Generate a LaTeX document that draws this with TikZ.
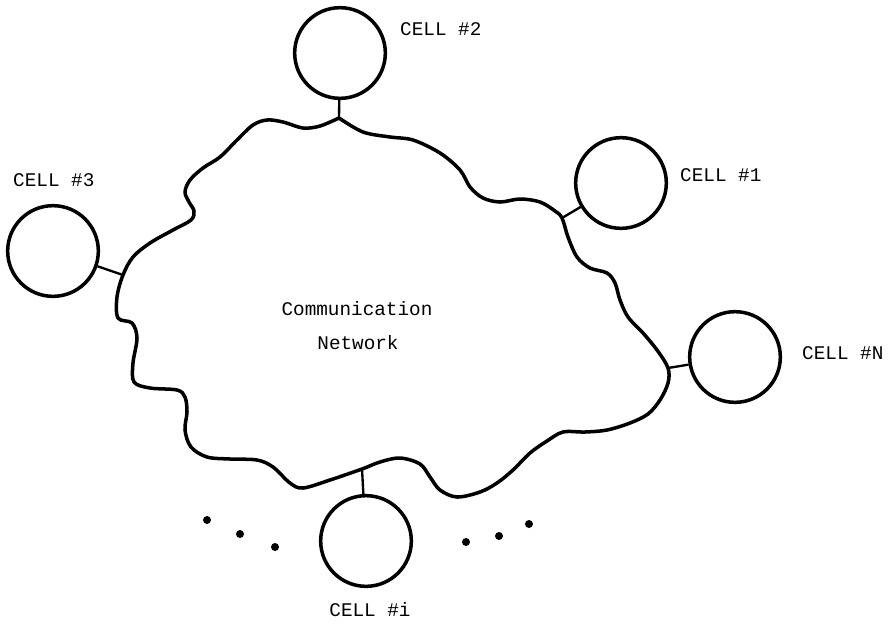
\documentclass[tikz,border=0pt]{standalone}
\usepackage{fontspec}
\setmonofont{Liberation Mono}
\tikzset{
  net/.style={
    line width=3pt,
    line cap=round,
    line join=round
  },
  cell/.style={circle, draw=black, line width=3pt, minimum size=2.72cm, inner sep=0pt},
  link/.style={line width=2pt},
  cell-label/.style={font=\ttfamily\fontsize{16.5}{20}\selectfont, inner sep=0pt, anchor=west},
  net-label/.style={font=\ttfamily\fontsize{16.5}{20}\selectfont, inner sep=0pt},
  dot-mark/.style={fill=black}
}

\begin{document}
\begin{tikzpicture}[x=0.03cm, y=-0.03cm]
  \useasboundingbox (0,0) rectangle (894,631);

  % Network outline (cusp where cell 2 joins)
  \draw[net] plot[smooth, tension=0.55] coordinates {
    (339,118) (363,132) (390,137) (413,140) (440,153) (460,170) (470,187)
    (483,198) (500,202) (520,199) (540,202) (555,211) (562,218) (568,237)
    (577,257) (590,268) (607,273) (615,283) (620,300) (628,317) (643,333)
    (657,350) (668,368) (668,383) (660,400) (648,414) (630,423) (607,430)
    (585,432) (563,432) (547,441) (530,453) (513,470) (497,483)
    (480,492) (457,497) (440,490) (430,477) (420,464) (400,458) (380,462)
    (362,469) (330,480) (303,488) (290,483) (273,467) (257,460) (230,459)
    (207,457) (191,447) (185,430) (187,412) (185,397) (177,390) (150,388)
    (134,382) (133,363) (137,338) (132,323) (118,318) (117,297) (123,275)
    (133,257) (150,243) (173,230) (191,220) (194,211) (189,202) (185,192)
    (190,180) (203,168) (220,157) (237,140) (253,125) (267,120) (283,122)
    (303,128) (320,126) (339,118)
  };

  % Junctions on the outline
  \coordinate (j2) at (339,118);
  \coordinate (j1) at (562,218);
  \coordinate (jN) at (668,368);
  \coordinate (ji) at (362,469);
  \coordinate (j3) at (123,275);

  % Cells
  \node[cell] (cell2) at (340,53) {};
  \node[cell] (cell1) at (621,183) {};
  \node[cell] (cellN) at (735,357) {};
  \node[cell] (celli) at (366,541) {};
  \node[cell] (cell3) at (53,251) {};

  \draw[link] (cell2) -- (j2);
  \draw[link] (cell1) -- (j1);
  \draw[link] (cellN) -- (jN);
  \draw[link] (celli) -- (ji);
  \draw[link] (cell3) -- (j3);

  \node[cell-label] (lab2) at (400,29) {CELL \#2};
  \node[cell-label] (lab1) at (680,175) {CELL \#1};
  \node[cell-label] (labN) at (802,353) {CELL \#N};
  \node[cell-label] (lab3) at (13,180) {CELL \#3};
  \node[cell-label, anchor=center] (labi) at (370,610) {CELL \#i};

  \node[net-label] (comm) at (357,309) {Communication};
  \node[net-label] (netw) at (358,343) {Network};

  % more cells
  \foreach \x/\y in {207/520, 240/534, 275/547, 466/542, 499/536, 529/524}{
    \fill[dot-mark] (\x,\y) circle (4);
  }
\end{tikzpicture}
\end{document}
